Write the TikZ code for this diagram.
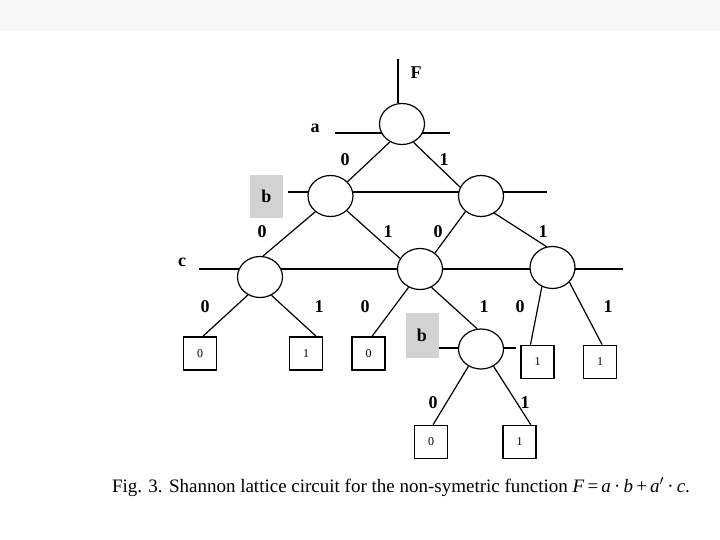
\documentclass[tikz,border=0pt]{standalone}
\usepackage{fontspec}
\setmainfont{Liberation Serif}
\usetikzlibrary{shapes.geometric,backgrounds}
\begin{document}
\begin{tikzpicture}[x=1pt,y=-1pt,
  gate/.style={ellipse,draw,line width=1.2pt,fill=white,minimum width=45pt,minimum height=41pt,inner sep=0pt},
  leaf/.style={rectangle,draw,line width=1.7pt,fill=white,minimum width=33pt,minimum height=33pt,inner sep=0pt,font=\fontsize{12}{14}\selectfont},
  lbl/.style={font=\bfseries\fontsize{18}{21}\selectfont,inner sep=0pt},
  var/.style={lbl,fill=gray!35,minimum width=33pt,minimum height=43pt},
  wire/.style={line width=1.2pt},
  bus/.style={line width=1.6pt},
  thickbus/.style={line width=2.3pt}]
\useasboundingbox (0,0) rectangle (720,540);
% gates
\node[gate] (A) at (402,124) {};
\node[gate] (B1) at (330.5,196) {};
\node[gate] (B2) at (481,196) {};
\node[gate] (C1) at (260,277) {};
\node[gate] (C2) at (420,269) {};
\node[gate,minimum height=42pt] (C3) at (552.5,267.5) {};
\node[gate,minimum height=40pt] (D) at (481,349) {};
% leaves
\node[leaf] (L1) at (200,353.5) {0};
\node[leaf] (L2) at (306,353.5) {1};
\node[leaf] (L3) at (368.5,353.5) {0};
\node[leaf] (L4) at (537.5,362) {1};
\node[leaf] (L5) at (600,362) {1};
\node[leaf] (L6) at (431,442) {0};
\node[leaf] (L7) at (519.5,442) {1};
% variable labels
\node[lbl] (tF) at (416,73) {F};
\node[lbl] (ta) at (315,128) {a};
\node[var] (tb1) at (266.5,196.5) {b};
\node[lbl] (tc) at (182,262) {c};
\node[var,minimum height=45pt] (tb2) at (422,335.5) {b};
% branch labels
\node[lbl] (e1) at (345,160) {0};
\node[lbl] (e2) at (444,160) {1};
\node[lbl] (e3) at (262,232) {0};
\node[lbl] (e4) at (388,232) {1};
\node[lbl] (e5) at (438,232) {0};
\node[lbl] (e6) at (543,232) {1};
\node[lbl] (e7) at (205,307) {0};
\node[lbl] (e8) at (319,307) {1};
\node[lbl] (e9) at (365,307) {0};
\node[lbl] (e10) at (484,307) {1};
\node[lbl] (e11) at (520,307) {0};
\node[lbl] (e12) at (608,307) {1};
\node[lbl] (e13) at (433,403) {0};
\node[lbl] (e14) at (525,403) {1};
% connectors
\draw[wire] (A.236) -- (B1.40);
\draw[wire] (A.302) -- (B2.157);
\draw[wire] (B1.226) -- (C1.82);
\draw[wire] (B1.318) -- (C2.152);
\draw[wire] (B2.225) -- (C2.47);
\draw[wire] (B2.308) -- (C3.106);
\draw[wire] (C1.236) -- (L1.80);
\draw[wire] (C1.302) -- (L2.60);
\draw[wire] (C2.238) -- (L3.78);
\draw[wire] (C2.302) -- (D.101);
\draw[wire] (C3.241) -- (L4.112);
\draw[wire] (C3.319) -- (L5.83);
\draw[wire] (D.234) -- (L6.83);
\draw[wire] (D.306) -- (L7.57);
% caption
\node[font=\fontsize{19}{22}\selectfont,inner sep=0pt] (cap) at (401,487)
  {Fig. 3. Shannon lattice circuit for the non-symetric function \textit{F}\,=\,\textit{a}\,·\,\textit{b}\,+\,\textit{a}$'$\,·\,\textit{c}.};
% bus coordinates
\coordinate (F0) at (398,59);
\coordinate (aL) at (335,133);
\coordinate (aR) at (450,133);
\coordinate (bL) at (288,192);
\coordinate (bR) at (547,192);
\coordinate (cL) at (199,269);
\coordinate (cR) at (623,269);
\coordinate (dL) at (438,348);
\coordinate (dR) at (516,348);
\begin{pgfonlayer}{background}
\fill[white] (0,0) rectangle (720,540);
\fill[black!3] (0,0) rectangle (720,31);
\draw[wire] (F0) -- (F0 |- A.north);
\draw[bus] (aL) -- (aR);
\draw[bus] (bL) -- (bR);
\draw[thickbus] (cL) -- (cR);
\draw[bus] (dL) -- (dR);
\end{pgfonlayer}
\end{tikzpicture}
\end{document}
